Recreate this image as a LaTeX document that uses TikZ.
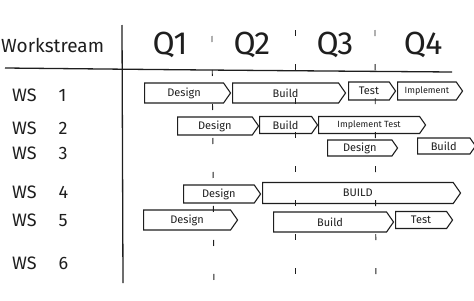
\documentclass[tikz,border=0pt]{standalone}
\usepackage{fontspec}
\setmainfont{Fira Sans}
\usetikzlibrary{shapes.symbols}
\definecolor{ink}{HTML}{1E1E1E}
\tikzset{
  bar/.style={draw=ink, line width=1.1pt, signal, signal to=east, signal pointer angle=110,
    anchor=west, inner sep=1pt, font=\fontsize{11}{11}\selectfont, text=ink},
  wslabel/.style={anchor=west, font=\fontsize{18}{18}\selectfont, text=ink, inner sep=0pt},
  qlabel/.style={font=\fontsize{32}{32}\selectfont\addfontfeatures{LetterSpace=-2}, text=ink, inner sep=0pt},
  rule/.style={draw=ink, line width=1.3pt},
  divider/.style={draw=ink, line width=0.9pt, dash pattern=on 6pt off 28pt}
}
\begin{document}
\begin{tikzpicture}[x=1pt,y=-1pt]
\useasboundingbox (0,0) rectangle (474,300);
% header
\node[anchor=west, font=\fontsize{19}{19}\selectfont, text=ink, inner sep=0pt] (hdr) at (1,45) {Workstream};
\node[qlabel] (q1) at (170,45) {Q1};
\node[qlabel] (q2) at (252,45) {Q2};
\node[qlabel] (q3) at (335,45) {Q3};
\node[qlabel] (q4) at (423,45) {Q4};
% rules
\coordinate (vtop) at (122,25);
\coordinate (vbot) at (123,283);
\coordinate (hl) at (5,68);
\coordinate (hr) at (452,72);
\draw[rule] (vtop) -- (vbot);
\draw[rule] (hl) .. controls (200,70) .. (hr);
% quarter dividers
\coordinate (d1t) at (212,36); \coordinate (d1b) at (214,290);
\coordinate (d2t) at (295,30); \coordinate (d2b) at (295,290);
\coordinate (d3t) at (375,30); \coordinate (d3b) at (376,290);
\draw[divider] (d1t) -- (d1b);
\draw[divider] (d2t) -- (d2b);
\draw[divider] (d3t) -- (d3b);
% workstream labels
\node[wslabel] (ws1) at (12,95) {WS\hspace{22pt}1};
\node[wslabel] (ws2) at (12,128) {WS\hspace{22pt}2};
\node[wslabel] (ws3) at (12,153) {WS\hspace{22pt}3};
\node[wslabel] (ws4) at (12,192) {WS\hspace{22pt}4};
\node[wslabel] (ws5) at (12,220) {WS\hspace{22pt}5};
\node[wslabel] (ws6) at (12,263) {WS\hspace{22pt}6};
% row 1
\node[bar, minimum width=86pt, minimum height=20pt] (r1a) at (144,93) {Design};
\node[bar, minimum width=113pt, minimum height=20pt] (r1b) at (232,93) {Build};
\node[bar, minimum width=47pt, minimum height=18pt] (r1c) at (348,91) {Test};
\node[bar, minimum width=65pt, minimum height=18pt, font=\fontsize{9}{9}\selectfont] (r1d) at (397,91) {Implement};
% row 2
\node[bar, minimum width=81pt, minimum height=18pt] (r2a) at (177,126) {Design};
\node[bar, minimum width=58pt, minimum height=17pt] (r2b) at (259,125) {Build};
\node[bar, minimum width=107pt, minimum height=17pt, font=\fontsize{9}{9}\selectfont] (r2c) at (318,125) {Implement Test};
% row 3
\node[bar, minimum width=70pt, minimum height=16pt] (r3a) at (327,148) {Design};
\node[bar, minimum width=58pt, minimum height=16pt] (r3b) at (417,146) {Build};
% row 4
\node[bar, minimum width=77pt, minimum height=18pt] (r4a) at (183,194) {Design};
\node[bar, minimum width=198pt, minimum height=21pt] (r4b) at (262,193) {BUILD};
% row 5
\node[bar, minimum width=94pt, minimum height=20pt] (r5a) at (143,220) {Design};
\node[bar, minimum width=120pt, minimum height=20pt] (r5b) at (273,222) {Build};
\node[bar, minimum width=57pt, minimum height=17pt] (r5c) at (395,220) {Test};
\end{tikzpicture}
\end{document}
